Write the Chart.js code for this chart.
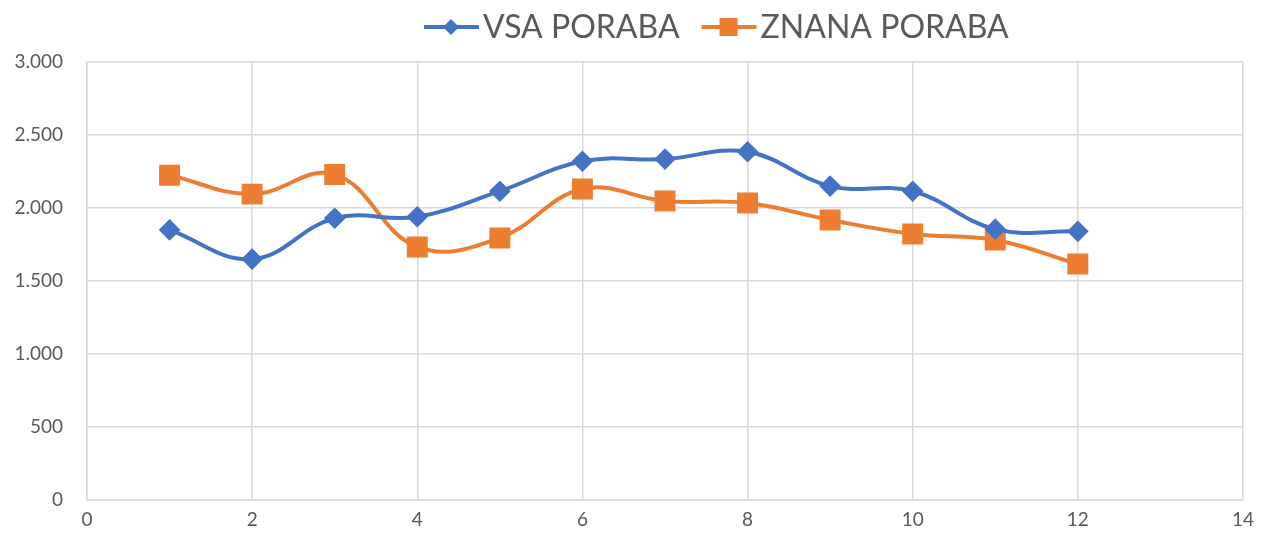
<!DOCTYPE html>
<html>
<head>
<meta charset="utf-8">
<script src="https://cdn.jsdelivr.net/npm/chart.js@4/dist/chart.umd.min.js"></script>
<style>
  html, body { margin: 0; padding: 0; background: #fff; }
  #wrap { width: 1262px; height: 541px; }
</style>
</head>
<body>
<div id="wrap"><canvas id="my-chart" width="1262" height="541"></canvas></div>
<script>
const months = [1, 2, 3, 4, 5, 6, 7, 8, 9, 10, 11, 12];
const vsaPoraba = [1850, 1650, 1930, 1940, 2115, 2320, 2335, 2385, 2150, 2115, 1855, 1840];
const znanaPoraba = [2225, 2095, 2230, 1733, 1795, 2130, 2048, 2034, 1918, 1822, 1781, 1616];
const xTicks = [0, 2, 4, 6, 8, 10, 12, 14];
const yTicks = [0, 500, 1000, 1500, 2000, 2500, 3000];

const blue = '#4472C4';
const orange = '#ED7D31';
const gridColor = '#D9D9D9';
const textColor = '#595959';
const fontFamily = 'Lato, "Open Sans", sans-serif';

// excel style legend: line with marker, then the label
const topLegend = {
  id: 'topLegend',
  afterDraw(ch) {
    const g = ch.ctx;
    g.save();
    g.font = '32px ' + fontFamily;
    g.textBaseline = 'middle';
    let x = 424;
    const y = 27;
    ch.data.datasets.forEach(ds => {
      g.strokeStyle = ds.borderColor;
      g.fillStyle = ds.borderColor;
      g.lineWidth = 4;
      g.beginPath();
      g.moveTo(x, y); g.lineTo(x + 55, y);
      g.stroke();
      const cx = x + 27;
      if (ds.pointStyle === 'rectRot') {
        g.beginPath();
        g.moveTo(cx, y - 8); g.lineTo(cx + 8, y); g.lineTo(cx, y + 8); g.lineTo(cx - 8, y);
        g.closePath(); g.fill();
      } else {
        g.fillRect(cx - 9, y - 9, 18, 18);
      }
      g.fillStyle = textColor;
      g.fillText(ds.label, x + 59, y + 1);
      x += 59 + g.measureText(ds.label).width + 22;
    });
    g.restore();
  }
};

const toPoints = vals => vals.map((v, i) => ({ x: months[i], y: v }));

const ctx = document.getElementById('my-chart').getContext('2d');
const chart = new Chart(ctx, {
  type: 'line',
  data: {
    datasets: [
      {
        label: 'VSA PORABA',
        data: toPoints(vsaPoraba),
        borderColor: blue,
        backgroundColor: blue,
        borderWidth: 4,
        pointStyle: 'rectRot',
        pointRadius: 8,
        pointHoverRadius: 8,
        tension: 0.4
      },
      {
        label: 'ZNANA PORABA',
        data: toPoints(znanaPoraba),
        borderColor: orange,
        backgroundColor: orange,
        borderWidth: 4,
        pointStyle: 'rect',
        pointRadius: 12,
        pointHoverRadius: 12,
        tension: 0.4
      }
    ]
  },
  options: {
    responsive: false,
    animation: false,
    layout: { padding: { left: 0, right: 17, top: 62, bottom: 0 } },
    plugins: {
      tooltip: { enabled: false },
      legend: { display: false }
    },
    scales: {
      x: {
        type: 'linear',
        min: 0,
        max: 14,
        afterBuildTicks: s => { s.ticks = xTicks.map(v => ({ value: v })); },
        afterFit: s => { s.height = 41; },
        grid: { color: gridColor, lineWidth: 1.5, drawTicks: false },
        border: { color: gridColor, width: 1.5 },
        ticks: {
          color: textColor,
          padding: 8,
          font: { family: fontFamily, size: 19 }
        }
      },
      y: {
        min: 0,
        max: 3000,
        afterBuildTicks: s => { s.ticks = yTicks.map(v => ({ value: v })); },
        afterFit: s => { s.width = 87; },
        grid: { color: gridColor, lineWidth: 1.5, drawTicks: false },
        border: { color: gridColor, width: 1.5 },
        ticks: {
          color: textColor,
          padding: 24,
          font: { family: fontFamily, size: 19 },
          callback: v => v.toLocaleString('de-DE')
        }
      }
    }
  },
  plugins: [topLegend]
});
</script>
</body>
</html>
